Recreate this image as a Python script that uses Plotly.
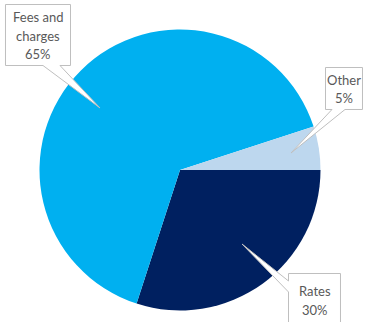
import plotly.graph_objects as go

# Revenue mix
categories = ["Rates", "Fees and charges", "Other"]
shares = [30, 65, 5]
colors = ["#002060", "#00B0F0", "#BDD7EE"]

W, H = 372, 322


def px(x):
    return x / W


def py(y):
    return 1 - y / H


# Callout layout in pixels: box (x0, y0, x1, y1), wedge base points, wedge tip,
# and the vertical centre of each text line.
callouts = {
    "Fees and charges": dict(box=(5.5, 4.5, 70.5, 65.5), side="bottom",
                             base=(43, 60), tip=(100, 108), lines=(17, 35.5, 54)),
    "Other": dict(box=(325.5, 67.5, 362.5, 109.5), side="bottom",
                  base=(332, 345), tip=(291, 153), lines=(79.5, 98)),
    "Rates": dict(box=(288.5, 273.5, 340.5, 340), side="left",
                  base=(281, 292), tip=(242, 244), lines=(291, 309.5)),
}
label_lines = {
    "Fees and charges": ["Fees and", "charges"],
    "Other": ["Other"],
    "Rates": ["Rates"],
}

fig = go.Figure(
    go.Pie(
        labels=categories,
        values=shares,
        sort=False,
        direction="clockwise",
        rotation=90,
        marker=dict(colors=colors, line=dict(width=0)),
        textinfo="none",
        hoverinfo="label+percent",
        domain=dict(x=[px(39.5), px(320.5)], y=[py(310.5), py(29.5)]),
        showlegend=False,
    )
)

shapes = []
annotations = []
for cat, val in zip(categories, shares):
    c = callouts[cat]
    x0, y0, x1, y1 = c["box"]
    tx, ty = c["tip"]
    b0, b1 = c["base"]
    if c["side"] == "bottom":
        pts = [(x0, y0), (x1, y0), (x1, y1), (b1, y1), (tx, ty), (b0, y1), (x0, y1)]
    else:
        pts = [(x0, y0), (x1, y0), (x1, y1), (x0, y1), (x0, b1), (tx, ty), (x0, b0)]
    path = "M " + " L ".join(f"{px(x):.5f},{py(y):.5f}" for x, y in pts) + " Z"
    shapes.append(dict(type="path", xref="paper", yref="paper", path=path,
                       fillcolor="white", line=dict(color="#BFBFBF", width=1),
                       layer="above"))
    texts = label_lines[cat] + [f"{val}%"]
    cx = (x0 + x1) / 2
    for t, ly in zip(texts, c["lines"]):
        annotations.append(dict(x=px(cx), y=py(ly), xref="paper", yref="paper",
                                text=t, showarrow=False, xanchor="center",
                                yanchor="middle",
                                font=dict(family="Lato", size=13, color="#595959")))

fig.update_layout(
    width=W, height=H,
    margin=dict(l=0, r=0, t=0, b=0),
    paper_bgcolor="white",
    plot_bgcolor="white",
    shapes=shapes,
    annotations=annotations,
)

fig.write_html("out.html")
